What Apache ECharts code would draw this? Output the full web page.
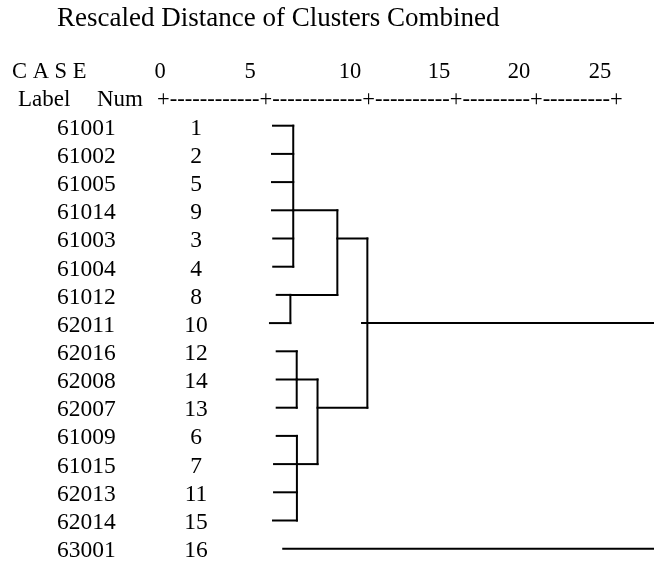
<!DOCTYPE html>
<html>
<head>
<meta charset="utf-8">
<script src="https://cdn.jsdelivr.net/npm/echarts@6/dist/echarts.min.js"></script>
<style>
  html, body { margin: 0; padding: 0; background: #fff; }
  #chart { width: 654px; height: 565px; }
</style>
</head>
<body>
<div id="chart"></div>
<script>
// Cases in dendrogram order (top to bottom)
const caseLabels = ['61001', '61002', '61005', '61014', '61003', '61004', '61012', '62011',
                    '62016', '62008', '62007', '61009', '61015', '62013', '62014', '63001'];
const caseNums = ['1', '2', '5', '9', '3', '4', '8', '10', '12', '14', '13', '6', '7', '11', '15', '16'];

// Scale header
const scaleTitle = 'Rescaled Distance of Clusters Combined';
const tickLabels = ['0', '5', '10', '15', '20', '25'];
const tickDashes = [12, 12, 10, 9, 9];

// Where each case's branch begins (rescaled distance)
const leafStart = [5.34, 5.29, 5.29, 5.29, 5.35, 5.35, 5.52, 5.19,
                   5.52, 5.52, 5.52, 5.52, 5.39, 5.39, 5.34, 5.84];

// Agglomeration steps: node ids 0..15 are cases, 16.. are the merged clusters below
const mergeChildren = [[0, 1, 2, 3, 4, 5], [6, 7], [16, 17], [8, 9, 10], [11, 12, 13, 14], [19, 20], [18, 21]];
const mergeDistance = [6.33, 6.19, 8.49, 6.50, 6.51, 7.52, 9.96];
const mergeRow = [3, 6, 4, 9, 12, 10, 7];
// Branches still open at the right edge of the scale
const openBranches = [22, 15];
const openBranchStart = [9.70, 5.84];
const scaleEnd = 24;

// Build the line segments [x1, row1, x2, row2] of the tree
const nLeaves = caseLabels.length;
function nodeRow(id) { return id < nLeaves ? id : mergeRow[id - nLeaves]; }
function nodeDist(id) { return id < nLeaves ? leafStart[id] : mergeDistance[id - nLeaves]; }

const segments = [];
mergeChildren.forEach(function (children, k) {
  const d = mergeDistance[k];
  const rows = children.map(nodeRow);
  children.forEach(function (c) {
    segments.push([nodeDist(c), nodeRow(c), d, nodeRow(c)]);
  });
  segments.push([d, Math.min.apply(null, rows), d, Math.max.apply(null, rows)]);
});
openBranches.forEach(function (id, i) {
  segments.push([openBranchStart[i], nodeRow(id), scaleEnd, nodeRow(id)]);
});

const serif = '"Liberation Serif", "Times New Roman", serif';
const chart = echarts.init(document.getElementById('chart'), null, { renderer: 'canvas' });

const tickX = [160, 250, 350, 439, 519, 600];
const headerGraphics = [
  { type: 'text', x: 57, y: 19, style: { text: scaleTitle, font: '27px ' + serif, fill: '#000', verticalAlign: 'middle' } },
  { type: 'text', x: 12, y: 72, style: { text: 'C A S E', font: '22.5px ' + serif, fill: '#000', verticalAlign: 'middle' } },
  { type: 'text', x: 18, y: 100, style: { text: 'Label', font: '23px ' + serif, fill: '#000', verticalAlign: 'middle' } },
  { type: 'text', x: 97, y: 100, style: { text: 'Num', font: '23px ' + serif, fill: '#000', verticalAlign: 'middle' } },
  { type: 'text', x: 157, y: 100, style: {
      text: '+' + tickDashes.map(function (n) { return '-'.repeat(n) + '+'; }).join(''),
      font: '22.5px ' + serif, fill: '#000', verticalAlign: 'middle' } }
];
tickLabels.forEach(function (t, i) {
  headerGraphics.push({ type: 'text', x: tickX[i], y: 72,
    style: { text: t, font: '22.5px ' + serif, fill: '#000', align: 'center', verticalAlign: 'middle' } });
});

const hidden = { show: false };
const labelStyle = { interval: 0, fontFamily: serif, fontSize: 23.5, color: '#000' };
chart.setOption({
  animation: false,
  backgroundColor: '#fff',
  grid: [
    { left: 164, right: 0, top: 111.6, bottom: 2.2 },   // tree
    { left: 164, right: 0, top: 114.6, bottom: -0.8 }   // case label columns
  ],
  xAxis: [
    { type: 'value', gridIndex: 0, min: 0, max: scaleEnd, show: false },
    { type: 'value', gridIndex: 1, min: 0, max: scaleEnd, show: false }
  ],
  yAxis: [
    { type: 'category', gridIndex: 0, data: caseLabels, inverse: true, show: false },
    { type: 'category', gridIndex: 1, data: caseLabels, inverse: true, position: 'left',
      axisLine: hidden, axisTick: hidden, splitLine: hidden,
      axisLabel: Object.assign({ align: 'left', margin: 107 }, labelStyle) },
    { type: 'category', gridIndex: 1, data: caseNums, inverse: true, position: 'left',
      axisLine: hidden, axisTick: hidden, splitLine: hidden,
      axisLabel: Object.assign({ align: 'center', margin: -32 }, labelStyle) }
  ],
  graphic: headerGraphics,
  series: [{
    type: 'custom',
    xAxisIndex: 0,
    yAxisIndex: 0,
    data: segments,
    renderItem: function (params, api) {
      const p1 = api.coord([api.value(0), api.value(1)]);
      const p2 = api.coord([api.value(2), api.value(3)]);
      return {
        type: 'line',
        shape: { x1: p1[0], y1: p1[1], x2: p2[0], y2: p2[1] },
        style: { stroke: '#000', lineWidth: 2, lineCap: 'square' }
      };
    }
  }]
});
</script>
</body>
</html>
